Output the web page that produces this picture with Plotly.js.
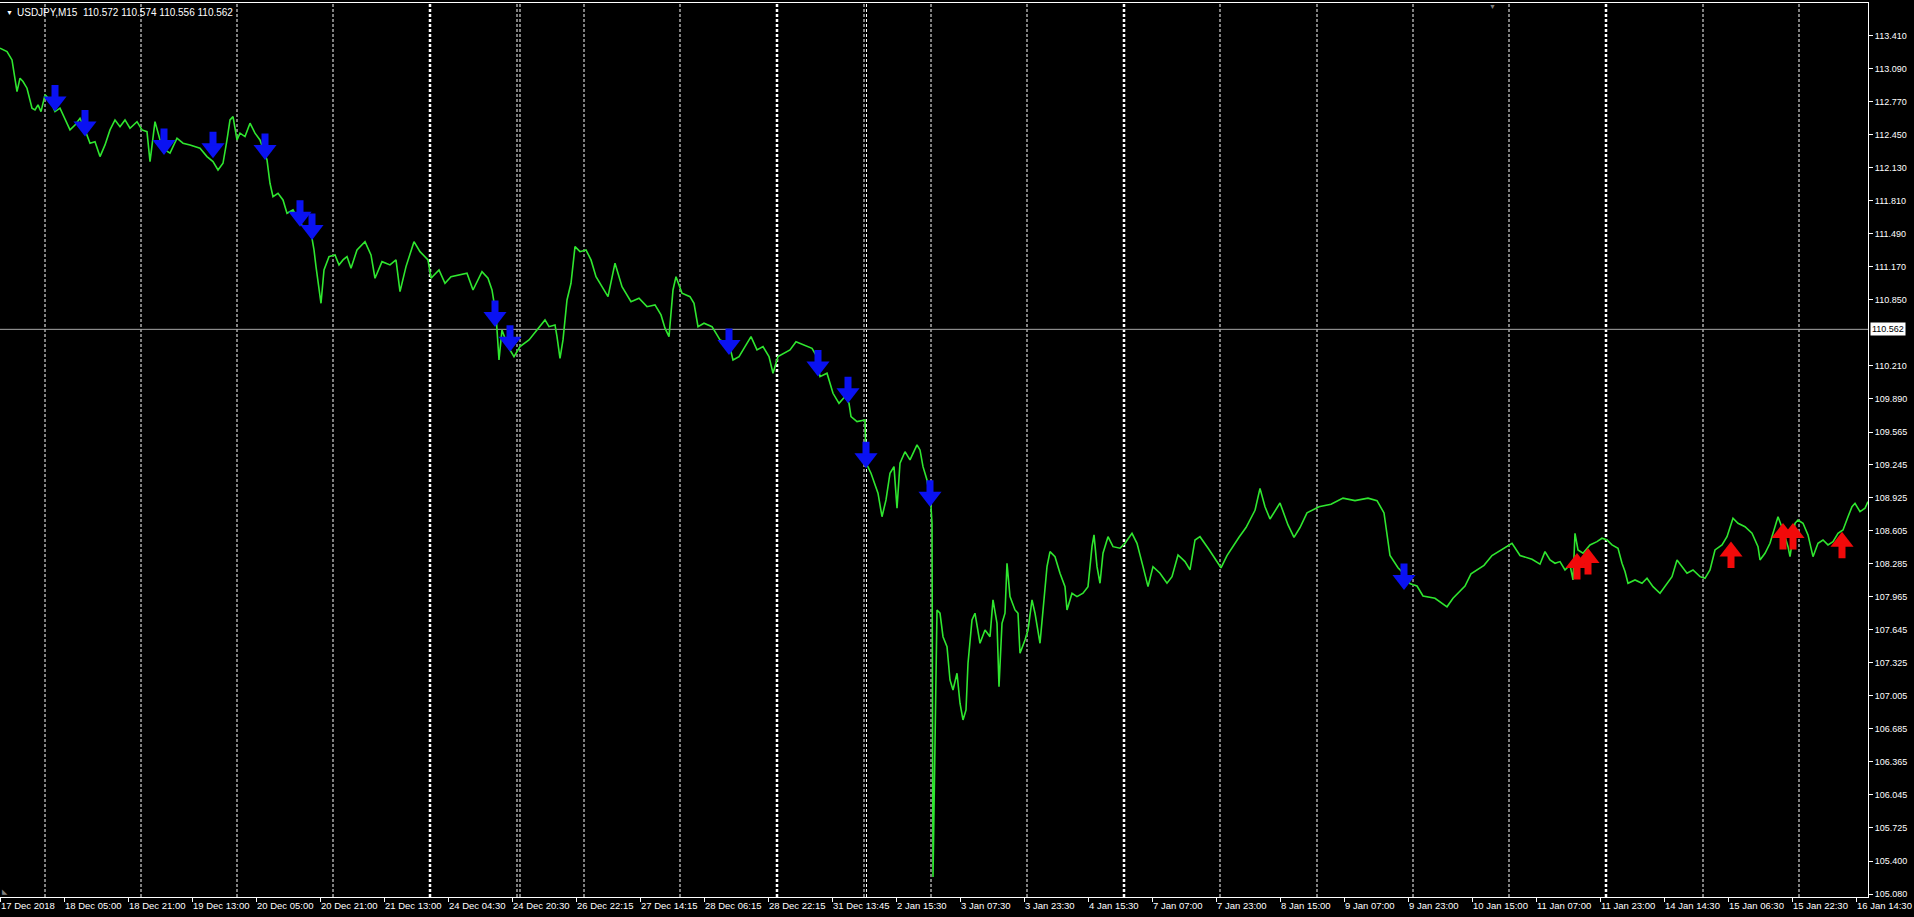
<!DOCTYPE html>
<html><head><meta charset="utf-8">
<script src="https://cdn.plot.ly/plotly-3.0.1.min.js"></script>
<style>html,body{margin:0;padding:0;background:#000;overflow:hidden;} #chart{width:1914px;height:917px;}</style>
</head><body><div id="chart"></div>
<script>
// ---- data ----
const symbolTitle = "USDJPY,M15";
const ohlc = ["110.572", "110.574", "110.556", "110.562"];
const currentPrice = 110.562;

// bar index (M15 bars from chart start) and close price of the line chart
const barIdx = [0,7,12,17,20,23,27,32,35,38,41,45,50,55,60,65,70,75,80,85,90,95,100,105,110,115,120,125,130,137,142,147,150,155,160,165,170,177,183,190,200,207,213,218,223,227,230,233,237,240,245,250,255,260,267,270,273,278,283,287,293,300,307,312,314,316,318,321,324,329,335,339,343,347,351,357,365,371,375,382,390,396,400,406,414,420,428,431,439,445,451,459,467,473,482,488,492,496,499,502,508,514,520,529,537,545,549,555,557,560,563,567,571,575,580,586,591,596,602,608,615,622,631,639,647,655,661,665,669,673,676,682,690,694,698,704,712,720,729,733,739,745,751,757,763,769,773,778,784,790,796,804,812,816,820,827,833,839,845,849,851,857,865,866,871,878,882,886,890,894,897,900,905,910,917,920,923,927,931,932,933,937,940,943,947,950,953,957,960,963,966,968,972,975,980,985,990,993,997,999,1002,1005,1007,1010,1015,1018,1020,1025,1028,1032,1035,1040,1043,1047,1050,1055,1060,1065,1067,1072,1077,1083,1088,1092,1094,1097,1100,1103,1108,1113,1120,1125,1132,1137,1143,1148,1153,1160,1167,1172,1178,1185,1190,1195,1200,1209,1221,1227,1239,1246,1255,1260,1265,1270,1280,1288,1294,1300,1307,1319,1331,1343,1355,1368,1377,1384,1390,1398,1404,1410,1417,1423,1435,1447,1453,1465,1471,1484,1492,1502,1512,1520,1532,1540,1545,1550,1555,1560,1565,1570,1573,1575,1578,1583,1590,1597,1602,1607,1612,1618,1622,1625,1628,1635,1642,1647,1653,1660,1667,1672,1677,1682,1687,1693,1700,1705,1710,1715,1722,1727,1733,1738,1745,1752,1758,1760,1765,1770,1775,1778,1783,1788,1790,1795,1798,1803,1808,1813,1818,1823,1828,1833,1838,1843,1848,1852,1855,1860,1865,1868];
const closePrice = [113.291,113.258,113.177,112.870,113.000,112.967,112.903,112.709,112.692,112.741,112.676,112.838,112.789,112.676,112.709,112.595,112.498,112.546,112.611,112.498,112.369,112.384,112.239,112.352,112.498,112.595,112.530,112.595,112.514,112.578,112.498,112.481,112.190,112.578,112.401,112.304,112.272,112.417,112.369,112.352,112.320,112.239,112.190,112.109,112.174,112.401,112.595,112.627,112.401,112.466,112.433,112.563,112.466,112.401,112.207,111.980,111.850,111.883,111.818,111.689,111.721,111.592,111.527,111.446,111.333,111.171,111.042,110.815,111.139,111.268,111.284,111.187,111.236,111.268,111.155,111.333,111.413,111.284,111.058,111.219,111.187,111.236,110.928,111.171,111.413,111.316,111.236,111.058,111.139,111.009,111.073,111.090,111.106,110.944,111.122,111.058,110.944,110.702,110.265,110.556,110.394,110.297,110.394,110.459,110.556,110.653,110.588,110.605,110.491,110.281,110.459,110.847,111.009,111.365,111.316,111.333,111.236,111.073,110.976,110.879,111.204,110.976,110.831,110.864,110.782,110.799,110.702,110.573,110.491,110.944,111.073,110.912,110.879,110.815,110.588,110.621,110.588,110.459,110.427,110.265,110.297,110.394,110.491,110.362,110.394,110.297,110.136,110.297,110.330,110.362,110.442,110.410,110.378,110.313,110.103,110.136,109.941,109.844,109.909,109.844,109.714,109.666,109.682,109.265,109.165,108.971,108.743,108.906,109.165,109.229,108.825,109.262,109.374,109.294,109.440,109.391,109.229,109.100,108.840,108.679,105.245,107.838,107.806,107.578,107.481,107.158,107.061,107.223,106.932,106.770,106.867,107.320,107.740,107.806,107.514,107.643,107.578,107.935,107.708,107.093,107.708,107.806,108.291,107.967,107.838,107.806,107.417,107.546,107.643,107.935,107.806,107.514,107.806,108.258,108.404,108.355,108.194,108.064,107.838,108.000,107.967,108.000,108.064,108.452,108.566,108.258,108.097,108.388,108.549,108.452,108.437,108.485,108.582,108.485,108.258,108.064,108.258,108.194,108.097,108.161,108.371,108.307,108.226,108.517,108.549,108.425,108.247,108.366,108.543,108.638,108.805,109.018,108.839,108.721,108.876,108.663,108.543,108.638,108.780,108.839,108.864,108.923,108.899,108.923,108.899,108.780,108.366,108.247,108.188,108.093,108.070,107.974,107.951,107.868,107.951,108.070,108.188,108.271,108.366,108.425,108.484,108.366,108.330,108.282,108.404,108.323,108.291,108.307,108.226,108.274,108.129,108.582,108.420,108.388,108.469,108.501,108.534,108.517,108.469,108.437,108.291,108.210,108.097,108.129,108.097,108.145,108.064,108.000,108.097,108.161,108.323,108.258,108.194,108.226,108.161,108.145,108.226,108.420,108.469,108.549,108.728,108.679,108.646,108.582,108.452,108.323,108.388,108.485,108.646,108.743,108.614,108.452,108.355,108.679,108.711,108.679,108.566,108.355,108.485,108.517,108.469,108.501,108.582,108.614,108.743,108.840,108.873,108.792,108.825,108.889];

// sell signals (blue down arrows): bar and price at the arrow tip
const sellBars = [55,85,164,213,265,300,312,495,510,729,818,848,866,930,1404];
const sellPrices = [112.676,112.433,112.255,112.223,112.207,111.559,111.430,110.585,110.345,110.313,110.103,109.844,109.213,108.840,108.032];
// buy signals (red up arrows)
const buyBars = [1577,1588,1731,1783,1793,1842];
const buyPrices = [108.391,108.440,108.501,108.682,108.682,108.598];

// day separators (bar index); weekend ones are drawn bold, holidays appear doubled
const daySeparators = [45,141,237,333,517,520,584,680,864,866.5,931,1027,1220,1317,1413,1509,1703,1799];
const weekSeparators = [430,777,1124,1606];

// time axis labels, one every 64 bars (16 hours)
const timeLabels = ["17 Dec 2018","18 Dec 05:00","18 Dec 21:00","19 Dec 13:00","20 Dec 05:00","20 Dec 21:00","21 Dec 13:00","24 Dec 04:30","24 Dec 20:30","26 Dec 22:15","27 Dec 14:15","28 Dec 06:15","28 Dec 22:15","31 Dec 13:45","2 Jan 15:30","3 Jan 07:30","3 Jan 23:30","4 Jan 15:30","7 Jan 07:00","7 Jan 23:00","8 Jan 15:00","9 Jan 07:00","9 Jan 23:00","10 Jan 15:00","11 Jan 07:00","11 Jan 23:00","14 Jan 14:30","15 Jan 06:30","15 Jan 22:30","16 Jan 14:30"];
const barsPerLabel = 64;
const priceLabels = ["113.410","113.090","112.770","112.450","112.130","111.810","111.490","111.170","110.850","110.210","109.890","109.565","109.245","108.925","108.605","108.285","107.965","107.645","107.325","107.005","106.685","106.365","106.045","105.725","105.400","105.080"];

// ---- build chart ----
const FONT = "Liberation Sans, Arial, sans-serif";
const W = 1914, H = 917;
const M = {l: 0, r: 46, t: 3, b: 20};
const Y_RANGE = [105.051, 113.730];
const tickBars = timeLabels.map((_, i) => i * barsPerLabel);

// arrow glyph geometry (pixels): triangle head + shaft, like the MT4 Wingdings arrows
const HEAD_SIZE = 20;                 // plotly marker size -> head about 23px wide, 15px tall
const HEAD_CENTER_OFFSET = HEAD_SIZE / 2;  // triangle tip sits r px from its centre
const ARROW_LEN = 28;
const pxPerUnit = (H - M.t - M.b) / (Y_RANGE[1] - Y_RANGE[0]);
const headShift = HEAD_CENTER_OFFSET / pxPerUnit;

const SELL_COLOR = "#0a12f2", BUY_COLOR = "#f20a0a";

const traces = [
  {type: "scatter", mode: "lines", x: barIdx, y: closePrice,
   line: {color: "#2fe62f", width: 1.6}, hoverinfo: "skip"},
  {type: "scatter", mode: "markers", x: sellBars, y: sellPrices.map(p => p + headShift),
   marker: {symbol: "triangle-down", size: HEAD_SIZE, color: SELL_COLOR, line: {width: 0}}, hoverinfo: "skip"},
  {type: "scatter", mode: "markers", x: buyBars, y: buyPrices.map(p => p - headShift),
   marker: {symbol: "triangle-up", size: HEAD_SIZE, color: BUY_COLOR, line: {width: 0}}, hoverinfo: "skip"}
];

const shapes = [];
daySeparators.forEach(b => shapes.push({type: "line", xref: "x", yref: "paper", x0: b, x1: b, y0: 0, y1: 1,
  layer: "below", line: {color: "#ffffff", width: 1, dash: "3px,2px"}}));
weekSeparators.forEach(b => shapes.push({type: "line", xref: "x", yref: "paper", x0: b, x1: b, y0: 0, y1: 1,
  layer: "below", line: {color: "#ffffff", width: 2.5, dash: "3px,2px"}}));
shapes.push({type: "line", xref: "paper", yref: "y", x0: 0, x1: 1, y0: currentPrice, y1: currentPrice,
  layer: "below", line: {color: "#a8a8a8", width: 1}});

const annotations = [];
// arrow shafts
sellBars.forEach((b, i) => annotations.push({x: b, y: sellPrices[i], xref: "x", yref: "y", text: "",
  showarrow: true, ax: 0, ay: -ARROW_LEN, arrowhead: 0, arrowwidth: 7, arrowcolor: SELL_COLOR, standoff: 13}));
buyBars.forEach((b, i) => annotations.push({x: b, y: buyPrices[i], xref: "x", yref: "y", text: "",
  showarrow: true, ax: 0, ay: ARROW_LEN, arrowhead: 0, arrowwidth: 7, arrowcolor: BUY_COLOR, standoff: 13}));

annotations.push({xref: "paper", yref: "paper", x: 0, y: 1, xanchor: "left", yanchor: "middle", xshift: 4, yshift: -9,
  text: "▼", showarrow: false, font: {family: FONT, size: 7, color: "#ffffff"}});
annotations.push({xref: "paper", yref: "paper", x: 0, y: 1, xanchor: "left", yanchor: "middle", xshift: 15, yshift: -9,
  text: symbolTitle + "\u00a0\u00a0" + ohlc.join(" "), showarrow: false, font: {family: FONT, size: 10, color: "#ffffff"}});
annotations.push({xref: "paper", yref: "y", x: 1, y: currentPrice, xanchor: "left", yanchor: "middle", xshift: 2,
  text: currentPrice.toFixed(3), showarrow: false, bgcolor: "#ffffff", borderpad: 1,
  font: {family: FONT, size: 9, color: "#000000"}});
annotations.push({xref: "paper", yref: "paper", x: 1492 / 1868, y: 1, xanchor: "center", yanchor: "top", yshift: 2,
  text: "▼", showarrow: false, font: {family: FONT, size: 7, color: "#808080"}});
annotations.push({xref: "paper", yref: "paper", x: 0, y: 0, xanchor: "left", yanchor: "bottom",
  text: "◣", showarrow: false, font: {family: FONT, size: 7, color: "#808080"}});

const layout = {
  width: W, height: H,
  paper_bgcolor: "#000000", plot_bgcolor: "#000000",
  margin: {l: M.l, r: M.r, t: M.t, b: M.b, pad: 0},
  showlegend: false,
  xaxis: {
    range: [0, 1868], tickvals: tickBars, ticktext: timeLabels, tickangle: 0,
    ticks: "outside", ticklen: 4, tickcolor: "#ffffff", tickwidth: 1,
    ticklabelposition: "outside right",
    showline: true, linecolor: "#ffffff", linewidth: 1, mirror: true,
    showgrid: false, zeroline: false,
    tickfont: {family: FONT, size: 9.5, color: "#ffffff"}, fixedrange: true
  },
  yaxis: {
    side: "right", range: Y_RANGE,
    tickvals: priceLabels.map(Number), ticktext: priceLabels,
    ticks: "outside", ticklen: 4, tickcolor: "#ffffff", tickwidth: 1,
    showline: true, linecolor: "#ffffff", linewidth: 1,
    showgrid: false, zeroline: false,
    tickfont: {family: FONT, size: 9, color: "#ffffff"}, fixedrange: true
  },
  shapes: shapes,
  annotations: annotations
};

Plotly.newPlot("chart", traces, layout, {displayModeBar: false, staticPlot: true});
</script>
</body></html>
